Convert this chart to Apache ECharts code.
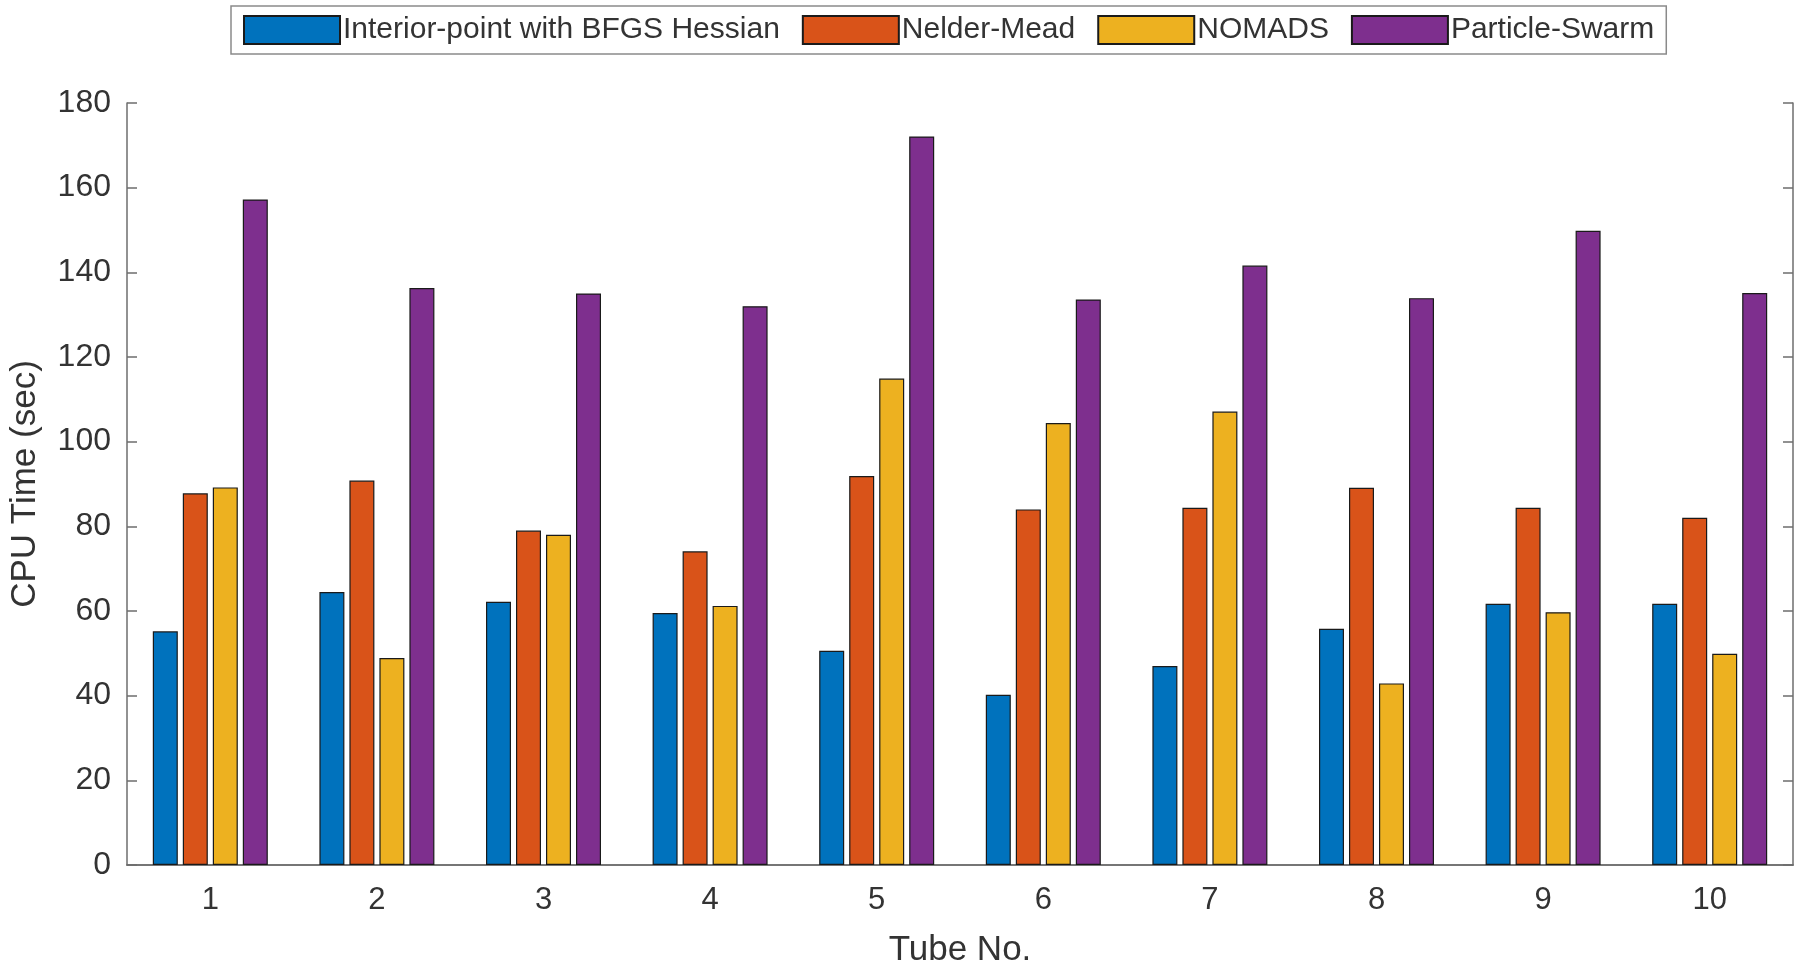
<!DOCTYPE html>
<html lang="en">
  <head>
    <meta charset="UTF-8" />
    <title>CPU Time per Tube</title>
    <script src="https://cdn.jsdelivr.net/npm/echarts@6/dist/echarts.min.js"></script>
    <style>
      html, body { margin: 0; padding: 0; background: #fff; }
    </style>
  </head>
  <body>
    <div id="chart" style="width: 1800px; height: 973px"></div>
  </body>
  <script>
    // data
    const tubes = ['1', '2', '3', '4', '5', '6', '7', '8', '9', '10']
    const seriesNames = ['Interior-point with BFGS Hessian', 'Nelder-Mead', 'NOMADS', 'Particle-Swarm']
    const interiorPoint = [55.2, 64.5, 62.2, 59.5, 50.6, 40.2, 47.0, 55.8, 61.7, 61.7]
    const nelderMead = [87.8, 90.8, 79.0, 74.1, 91.9, 84.0, 84.4, 89.1, 84.4, 82.0]
    const nomads = [89.2, 48.9, 78.0, 61.2, 114.9, 104.4, 107.1, 42.9, 59.7, 49.9]
    const particleSwarm = [157.2, 136.3, 135.0, 132.0, 172.1, 133.6, 141.6, 133.9, 149.8, 135.1]
    const yTicks = [0, 20, 40, 60, 80, 100, 120, 140, 160, 180]

    const colors = ['#0072BD', '#D95319', '#EDB120', '#7E2F8E']
    const font = 'Liberation Sans, Arial, sans-serif'
    const axisGray = '#6e6e6e'
    const textGray = '#333'

    const chart = echarts.init(document.getElementById('chart'))

    const values = [interiorPoint, nelderMead, nomads, particleSwarm]
    const series = values.map((vals, i) => ({
      name: seriesNames[i],
      type: 'bar',
      data: vals,
      barWidth: 25,
      barGap: '20%',
      itemStyle: {
        color: colors[i],
        borderColor: '#1a1a1a',
        borderWidth: 1.2
      }
    }))

    const option = {
      animation: false,
      backgroundColor: '#fff',
      textStyle: { fontFamily: font },
      legend: {
        left: 231,
        top: 6,
        padding: [9, 12, 9, 12],
        icon: 'rect',
        itemWidth: 96,
        itemHeight: 28,
        itemGap: 22,
        borderColor: '#8a8a8a',
        borderWidth: 1.5,
        textStyle: { fontFamily: font, fontSize: 30, color: textGray, padding: [0, 0, 0, -2] },
        data: seriesNames
      },
      grid: {
        left: 126,
        right: 7,
        top: 103,
        bottom: 101
      },
      xAxis: [
        {
          type: 'category',
          data: tubes,
          name: 'Tube No.',
          nameLocation: 'middle',
          nameGap: 68,
          nameTextStyle: { fontSize: 35, color: textGray, fontFamily: font },
          axisLine: { lineStyle: { color: axisGray, width: 1.5 } },
          axisTick: { alignWithLabel: true, inside: true, length: 10, lineStyle: { color: '#222', width: 2 } },
          axisLabel: { fontSize: 31, color: textGray, margin: 20, fontFamily: font },
          splitLine: { show: false }
        },
        {
          type: 'category',
          data: tubes,
          position: 'top',
          axisLine: { lineStyle: { color: axisGray, width: 1.5 } },
          axisTick: { alignWithLabel: true, inside: true, length: 10, lineStyle: { color: axisGray, width: 1.5 } },
          axisLabel: { show: false },
          splitLine: { show: false }
        }
      ],
      yAxis: [
        {
          type: 'value',
          min: yTicks[0],
          max: yTicks[yTicks.length - 1],
          interval: yTicks[1] - yTicks[0],
          name: 'CPU Time (sec)',
          nameLocation: 'middle',
          nameGap: 84,
          nameTextStyle: { fontSize: 35, color: textGray, fontFamily: font },
          axisLine: { show: true, lineStyle: { color: axisGray, width: 1.5 } },
          axisTick: { show: true, inside: true, length: 10, lineStyle: { color: axisGray, width: 1.5 } },
          axisLabel: { fontSize: 32, color: textGray, margin: 16, fontFamily: font },
          splitLine: { show: false }
        },
        {
          type: 'value',
          position: 'right',
          min: yTicks[0],
          max: yTicks[yTicks.length - 1],
          interval: yTicks[1] - yTicks[0],
          axisLine: { show: true, lineStyle: { color: axisGray, width: 1.5 } },
          axisTick: { show: true, inside: true, length: 10, lineStyle: { color: axisGray, width: 1.5 } },
          axisLabel: { show: false },
          splitLine: { show: false }
        }
      ],
      series: series
    }
    chart.setOption(option)
  </script>
</html>
